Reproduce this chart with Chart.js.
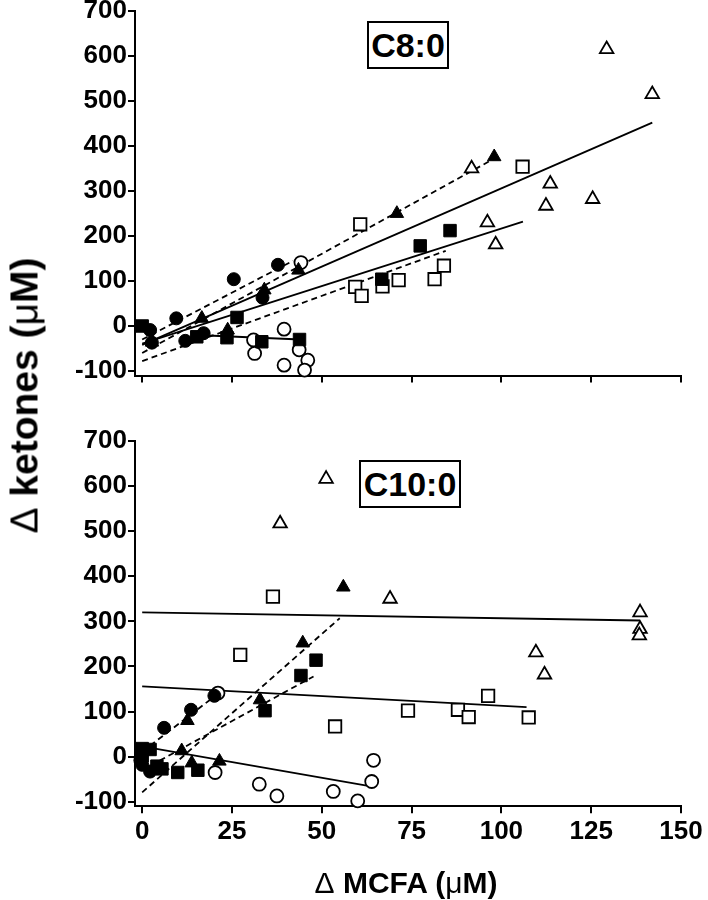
<!DOCTYPE html>
<html>
<head>
<meta charset="utf-8">
<script src="https://cdn.jsdelivr.net/npm/chart.js@4.4.0/dist/chart.umd.min.js"></script>
<style>
  body { margin: 0; background: #fff; width: 708px; height: 900px; position: relative; overflow: hidden;
         font-family: "Liberation Sans", Arial, sans-serif; }
  .panel { position: absolute; left: 0; }
  .tag { position: absolute; border: 2px solid #000; box-sizing: border-box; background: #fff;
         font-weight: bold; font-size: 34px; line-height: 44px; text-align: center; z-index: 2; }
  .thin { font-weight: normal; }
  #ytitle { position: absolute; left: -176.5px; top: 375.5px; width: 400px; height: 39px; line-height: 39px;
            font-size: 39px; font-weight: bold; text-align: center; white-space: nowrap; transform: rotate(-90deg); }
  #xtitle { position: absolute; left: 206px; top: 865px; width: 400px; height: 36px; line-height: 36px;
            font-size: 30px; font-weight: bold; text-align: center; white-space: nowrap; }
</style>
</head>
<body>
<div class="panel" style="top:-10px"><canvas id="c8" width="708" height="410"></canvas></div>
<div class="panel" style="top:420px"><canvas id="c10" width="708" height="480"></canvas></div>
<div class="tag" style="left:367px; top:21px; width:82px; height:48px;">C8:0</div>
<div class="tag" style="left:359px; top:460px; width:102px; height:48px;">C10:0</div>
<div id="ytitle"><span class="thin">Δ</span> ketones (<span class="thin">μ</span>M)</div>
<div id="xtitle"><span class="thin">Δ</span> MCFA (<span class="thin">μ</span>M)</div>
<script>
const xTicks = [0, 25, 50, 75, 100, 125, 150];
const yTicks = [-100, 0, 100, 200, 300, 400, 500, 600, 700];

// C8:0 panel
const c8FilledCircle = [[2.2, -9], [2.7, -37], [9.5, 17], [12, -33], [17.1, -16], [25.5, 104], [33.5, 63], [37.8, 136]];
const c8OpenCircle = [[31, -31], [31.3, -61], [39.5, -7], [43.7, -53], [39.5, -87], [46.1, -76], [45.2, -98], [44.2, 141]];
const c8FilledSquare = [[0, 0], [15.2, -24], [23.6, -26], [26.4, 19], [33.3, -35], [43.8, -30], [66.7, 104], [77.4, 178], [85.7, 212]];
const c8OpenSquare = [[59.3, 87], [61.1, 67], [60.7, 226], [66.9, 88], [71.4, 102], [81.4, 104], [84, 134], [105.9, 354]];
const c8FilledTriangle = [[2.7, -36], [16.6, 17], [23.8, -9], [34, 80], [43.5, 124], [70.9, 250], [98, 376]];
const c8OpenTriangle = [[91.7, 350], [96.1, 230], [98.4, 181], [112.4, 267], [113.6, 316], [125.4, 282], [129.3, 615], [142, 515]];

const c8FitOpenTriangle = [[0, -42], [142, 452]];
const c8FitOpenSquare = [[0, -39], [106, 232]];
const c8FitFilledTriangle = [[0, -60], [98, 372]];
const c8FitFilledCircle = [[0, -30], [42, 145]];
const c8FitFilledSquare = [[0, -78], [84.5, 167]];
const c8FitOpenCircle = [[15, -20], [44, -30]];

// C10:0 panel
const c10FilledCircle = [[-0.5, -8], [0, -18], [2.2, -33], [6.1, 64], [13.6, 104], [20.1, 135]];
const c10OpenCircle = [[20.3, -35], [21.1, 141], [32.6, -61], [37.5, -87], [53.2, -77], [60, -98], [63.9, -55], [64.4, -8]];
const c10FilledSquare = [[0, 18], [2.2, 16], [0, 2], [4.1, -21], [5.5, -27], [9.9, -35], [15.5, -30], [34.2, 102], [44.2, 180], [48.4, 214]];
const c10OpenSquare = [[27.3, 226], [36.4, 355], [53.7, 67], [74, 102], [87.9, 104], [90.9, 88], [96.3, 135], [107.6, 87]];
const c10FilledTriangle = [[11, 13], [12.6, 80], [13.8, -14], [21.5, -10], [32.8, 126], [44.7, 252], [56, 376]];
const c10OpenTriangle = [[38.4, 517], [51.2, 616], [69, 350], [109.6, 231], [112, 182], [138.6, 320], [138.6, 283], [138.4, 269]];

const c10FitOpenTriangle = [[0, 320], [138.6, 302]];
const c10FitOpenSquare = [[0, 156], [107, 110]];
const c10FitOpenCircle = [[0, 23], [62.5, -64]];
const c10FitFilledTriangle = [[0, -79], [55, 307]];
const c10FitFilledSquare = [[0, -30], [47.7, 178]];
const c10FitFilledCircle = [[0, 11], [21.5, 142]];

const FONT = "'Liberation Sans', Arial, sans-serif";
const radius = { circle: 6.5, rect: 8.8, triangle: 7.8 };

const toXY = (arr) => arr.map(p => ({ x: p[0], y: p[1] }));

const markers = (data, style, filled) => ({
    data: toXY(data),
    showLine: false,
    pointStyle: style,
    pointRadius: radius[style],
    pointBackgroundColor: filled ? '#000' : '#fff',
    pointBorderColor: '#000',
    pointBorderWidth: filled ? 1 : 1.8,
    clip: false,
    order: 0
});

const fit = (data, dashed) => ({
    data: toXY(data),
    showLine: true,
    borderColor: '#000',
    borderWidth: 1.8,
    borderDash: dashed ? [6, 4] : [],
    pointRadius: 0,
    fill: false,
    order: 1
});

const make_panel = (id, datasets, showXLabels, xHeight) => {
    new Chart(document.getElementById(id), {
        type: 'scatter',
        data: { datasets: datasets },
        options: {
            responsive: false,
            animation: false,
            events: [],
            layout: { padding: { top: 21, right: 27, bottom: 0, left: 0 } },
            plugins: { legend: { display: false }, tooltip: { enabled: false } },
            scales: {
                x: {
                    type: 'linear', min: -2, max: 150,
                    afterBuildTicks: (s) => { s.ticks = xTicks.map(v => ({ value: v })); },
                    afterFit: (s) => { s.height = xHeight; },
                    grid: { drawOnChartArea: false, drawTicks: true, tickLength: 7, color: '#000', lineWidth: 2 },
                    border: { display: true, color: '#000', width: 2 },
                    ticks: {
                        display: showXLabels, color: '#000', padding: 3, maxRotation: 0, autoSkip: false,
                        font: { family: FONT, size: 26, weight: 'bold' }
                    }
                },
                y: {
                    type: 'linear', min: -110, max: 700,
                    afterBuildTicks: (s) => { s.ticks = yTicks.map(v => ({ value: v })); },
                    afterFit: (s) => { s.width = 135; },
                    grid: { drawOnChartArea: false, drawTicks: true, tickLength: 7, color: '#000', lineWidth: 2 },
                    border: { display: true, color: '#000', width: 2 },
                    ticks: {
                        color: '#000', padding: 1, autoSkip: false,
                        font: { family: FONT, size: 26, weight: 'bold' }
                    }
                }
            }
        }
    });
}

make_panel('c8', [
    markers(c8FilledCircle, 'circle', true),
    markers(c8FilledSquare, 'rect', true),
    markers(c8FilledTriangle, 'triangle', true),
    markers(c8OpenCircle, 'circle', false),
    markers(c8OpenSquare, 'rect', false),
    markers(c8OpenTriangle, 'triangle', false),
    fit(c8FitOpenTriangle, false),
    fit(c8FitOpenSquare, false),
    fit(c8FitOpenCircle, false),
    fit(c8FitFilledTriangle, true),
    fit(c8FitFilledCircle, true),
    fit(c8FitFilledSquare, true)
], false, 24.5);

make_panel('c10', [
    markers(c10FilledCircle, 'circle', true),
    markers(c10FilledSquare, 'rect', true),
    markers(c10FilledTriangle, 'triangle', true),
    markers(c10OpenCircle, 'circle', false),
    markers(c10OpenSquare, 'rect', false),
    markers(c10OpenTriangle, 'triangle', false),
    fit(c10FitOpenTriangle, false),
    fit(c10FitOpenSquare, false),
    fit(c10FitOpenCircle, false),
    fit(c10FitFilledTriangle, true),
    fit(c10FitFilledSquare, true),
    fit(c10FitFilledCircle, true)
], true, 93.7);
</script>
</body>
</html>
